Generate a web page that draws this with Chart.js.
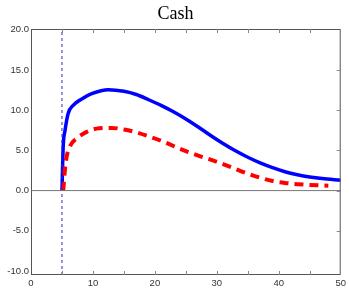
<!DOCTYPE html>
<html>
<head>
<meta charset="utf-8">
<script src="https://cdn.jsdelivr.net/npm/chart.js@4"></script>
<style>
  html, body { margin: 0; padding: 0; background: #fff; }
  #box { width: 349px; height: 288px; }
</style>
</head>
<body>
<div id="box"><canvas id="myChart"></canvas></div>
<script>
const chartTitle = 'Cash';

// solid blue series
const blueX = [5, 5.2, 5.5, 6, 6.8, 8.2, 9.8, 12.5, 15, 17, 19, 21, 23, 25, 27, 29, 31, 33, 35, 37, 39, 41, 43, 45, 47, 50];
const blueY = [0, 5.5, 7.5, 9.6, 10.6, 11.4, 12.05, 12.55, 12.35, 11.95, 11.3, 10.6, 9.8, 8.9, 7.9, 6.85, 5.85, 4.95, 4.15, 3.45, 2.85, 2.35, 1.98, 1.7, 1.5, 1.3];

// dashed red series
const redX = [5.2, 5.6, 6.3, 7.4, 9, 11, 13, 15, 17, 19, 21, 23, 25, 27, 29, 31, 33, 35, 37, 39, 41, 43, 45, 48];
const redY = [0, 3.5, 5.5, 6.5, 7.3, 7.75, 7.8, 7.6, 7.25, 6.75, 6.2, 5.55, 4.9, 4.35, 3.85, 3.3, 2.7, 2.1, 1.6, 1.2, 0.95, 0.8, 0.7, 0.6];

// reference lines
const markerX = 5;
const zeroY = 0;

const xMin = 0, xMax = 50, xStep = 5;
const yMin = -10.5, yMax = 20.1;
const yTicks = [-10, -5, 0, 5, 10, 15, 20];

const toPoints = (xs, ys) => xs.map((x, i) => ({ x: x, y: ys[i] }));

// border + inward ticks + title
const frame = {
  id: 'frame',
  afterDraw(chart) {
    const { ctx, width, chartArea: { top, bottom, left, right }, scales: { x, y } } = chart;
    ctx.save();
    ctx.strokeStyle = '#555';
    ctx.lineWidth = 1;
    ctx.strokeRect(left + 0.5, top + 0.5, right - left - 1, bottom - top - 1);
    ctx.strokeStyle = '#888';
    ctx.beginPath();
    for (let v = xMin + xStep; v < xMax; v += xStep) {
      const px = Math.round(x.getPixelForValue(v)) + 0.5;
      ctx.moveTo(px, top); ctx.lineTo(px, top + 4);
      ctx.moveTo(px, bottom); ctx.lineTo(px, bottom - 4);
    }
    yTicks.slice(1, -1).forEach((v) => {
      const py = Math.round(y.getPixelForValue(v)) + 0.5;
      ctx.moveTo(right, py); ctx.lineTo(right - 4, py);
    });
    ctx.stroke();
    ctx.fillStyle = '#000';
    ctx.font = '18px "Liberation Serif", "DejaVu Serif", serif';
    ctx.textAlign = 'center';
    ctx.textBaseline = 'middle';
    ctx.fillText(chartTitle, width / 2 + 1, 14);
    ctx.restore();
  }
};

const config = {
  type: 'scatter',
  data: {
    datasets: [
      {
        data: toPoints([xMin, xMax], [zeroY, zeroY]),
        showLine: true,
        borderColor: '#777',
        borderWidth: 1,
        pointRadius: 0
      },
      {
        data: toPoints([markerX, markerX], [yMin, yMax]),
        showLine: true,
        borderColor: '#2a2ad0',
        borderWidth: 1,
        borderDash: [3, 3],
        pointRadius: 0
      },
      {
        data: toPoints(redX, redY),
        showLine: true,
        borderColor: '#ff0000',
        borderWidth: 4,
        borderDash: [9, 6],
        cubicInterpolationMode: 'monotone',
        pointRadius: 0
      },
      {
        data: toPoints(blueX, blueY),
        showLine: true,
        borderColor: '#0000ff',
        borderWidth: 3.5,
        cubicInterpolationMode: 'monotone',
        pointRadius: 0
      }
    ]
  },
  options: {
    responsive: true,
    maintainAspectRatio: false,
    animation: false,
    layout: { padding: { top: 29, right: 8, left: 0, bottom: 0 } },
    scales: {
      x: {
        type: 'linear',
        min: xMin,
        max: xMax,
        grid: { display: false, drawTicks: false },
        border: { display: false },
        afterFit: (s) => { s.height = 13; },
        ticks: {
          stepSize: 10,
          padding: 3,
          color: '#333',
          font: { family: '"Liberation Sans", Arial, sans-serif', size: 9.5 },
          maxRotation: 0
        }
      },
      y: {
        type: 'linear',
        min: yMin,
        max: yMax,
        grid: { display: false, drawTicks: false },
        border: { display: false },
        afterFit: (s) => { s.width = 31; },
        afterBuildTicks: (s) => { s.ticks = yTicks.map((v) => ({ value: v })); },
        ticks: {
          padding: 2,
          color: '#333',
          font: { family: '"Liberation Sans", Arial, sans-serif', size: 9.5 },
          callback: (v) => Number(v).toFixed(1)
        }
      }
    },
    plugins: {
      legend: { display: false },
      tooltip: { enabled: false }
    }
  },
  plugins: [frame]
};

new Chart(document.getElementById('myChart'), config);
</script>
</body>
</html>
